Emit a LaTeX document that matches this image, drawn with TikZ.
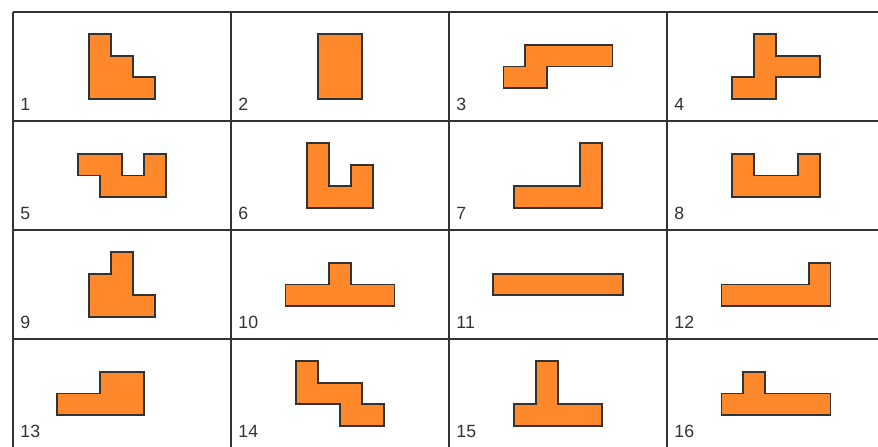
\documentclass[tikz,border=0pt]{standalone}
\usepackage{fontspec}
\setmainfont{Liberation Sans}
\usepackage{xcolor}
\usepackage{tikz}

\definecolor{piecefill}{RGB}{255,137,42}
\definecolor{inkgray}{RGB}{51,51,51}

\tikzset{
    gridline/.style={draw=inkgray, line width=1.4pt, line cap=square},
    piece/.style={draw=inkgray, fill=piecefill, line width=1.4pt, line join=miter},
    celllabel/.style={anchor=base west, inner sep=0pt, text=inkgray,
        font=\fontsize{12.6}{15}\selectfont}
}

\begin{document}
\begin{tikzpicture}[x=0.545cm, y=-0.545cm]

    \useasboundingbox (-0.596,-0.550) rectangle (39.68,19.91);
    \clip (-0.596,-0.550) rectangle (39.68,19.91);

    % Cells
    \foreach \x in {0,10,20,30,40} {
        \draw[gridline] (\x,0) -- (\x,20);
    }
    \foreach \y in {0,5,10,15,20} {
        \draw[gridline] (0,\y) -- (40,\y);
    }

    % Numbers
    \foreach \n in {1,...,16} {
        \pgfmathtruncatemacro\col{mod(\n-1,4)}
        \pgfmathtruncatemacro\row{div(\n-1,4)}
        \node[celllabel] (lab\n) at (\col*10+0.33, \row*5+4.54) {\n};
    }

    % Row 1
    \draw[piece] (3.5,1) -- (4.5,1) -- (4.5,2) -- (5.5,2) -- (5.5,3) -- (6.5,3) -- (6.5,4) -- (3.5,4) -- cycle;
    \draw[piece, shift={(10,0)}] (4,1) rectangle (6,4);
    \draw[piece, shift={(20,0)}] (3.5,1.5) -- (7.5,1.5) -- (7.5,2.5) -- (4.5,2.5) -- (4.5,3.5) -- (2.5,3.5) -- (2.5,2.5) -- (3.5,2.5) -- cycle;
    \draw[piece, shift={(30,0)}] (4,1) -- (5,1) -- (5,2) -- (7,2) -- (7,3) -- (5,3) -- (5,4) -- (3,4) -- (3,3) -- (4,3) -- cycle;

    % Row 2
    \draw[piece, shift={(0,5)}] (3,1.5) -- (5,1.5) -- (5,2.5) -- (6,2.5) -- (6,1.5) -- (7,1.5) -- (7,3.5) -- (4,3.5) -- (4,2.5) -- (3,2.5) -- cycle;
    \draw[piece, shift={(10,5)}] (3.5,1) -- (4.5,1) -- (4.5,3) -- (5.5,3) -- (5.5,2) -- (6.5,2) -- (6.5,4) -- (3.5,4) -- cycle;
    \draw[piece, shift={(20,5)}] (3,3) -- (6,3) -- (6,1) -- (7,1) -- (7,4) -- (3,4) -- cycle;
    \draw[piece, shift={(30,5)}] (3,1.5) -- (4,1.5) -- (4,2.5) -- (6,2.5) -- (6,1.5) -- (7,1.5) -- (7,3.5) -- (3,3.5) -- cycle;

    % Row 3
    \draw[piece, shift={(0,10)}] (4.5,1) -- (5.5,1) -- (5.5,3) -- (6.5,3) -- (6.5,4) -- (3.5,4) -- (3.5,2) -- (4.5,2) -- cycle;
    \draw[piece, shift={(10,10)}] (2.5,2.5) -- (4.5,2.5) -- (4.5,1.5) -- (5.5,1.5) -- (5.5,2.5) -- (7.5,2.5) -- (7.5,3.5) -- (2.5,3.5) -- cycle;
    \draw[piece, shift={(20,10)}] (2,2) rectangle (8,3);
    \draw[piece, shift={(30,10)}] (2.5,2.5) -- (6.5,2.5) -- (6.5,1.5) -- (7.5,1.5) -- (7.5,3.5) -- (2.5,3.5) -- cycle;

    % Row 4
    \draw[piece, shift={(0,15)}] (4,1.5) -- (6,1.5) -- (6,3.5) -- (2,3.5) -- (2,2.5) -- (4,2.5) -- cycle;
    \draw[piece, shift={(10,15)}] (3,1) -- (4,1) -- (4,2) -- (6,2) -- (6,3) -- (7,3) -- (7,4) -- (5,4) -- (5,3) -- (3,3) -- cycle;
    \draw[piece, shift={(20,15)}] (4,1) -- (5,1) -- (5,3) -- (7,3) -- (7,4) -- (3,4) -- (3,3) -- (4,3) -- cycle;
    \draw[piece, shift={(30,15)}] (3.5,1.5) -- (4.5,1.5) -- (4.5,2.5) -- (7.5,2.5) -- (7.5,3.5) -- (2.5,3.5) -- (2.5,2.5) -- (3.5,2.5) -- cycle;

\end{tikzpicture}
\end{document}
